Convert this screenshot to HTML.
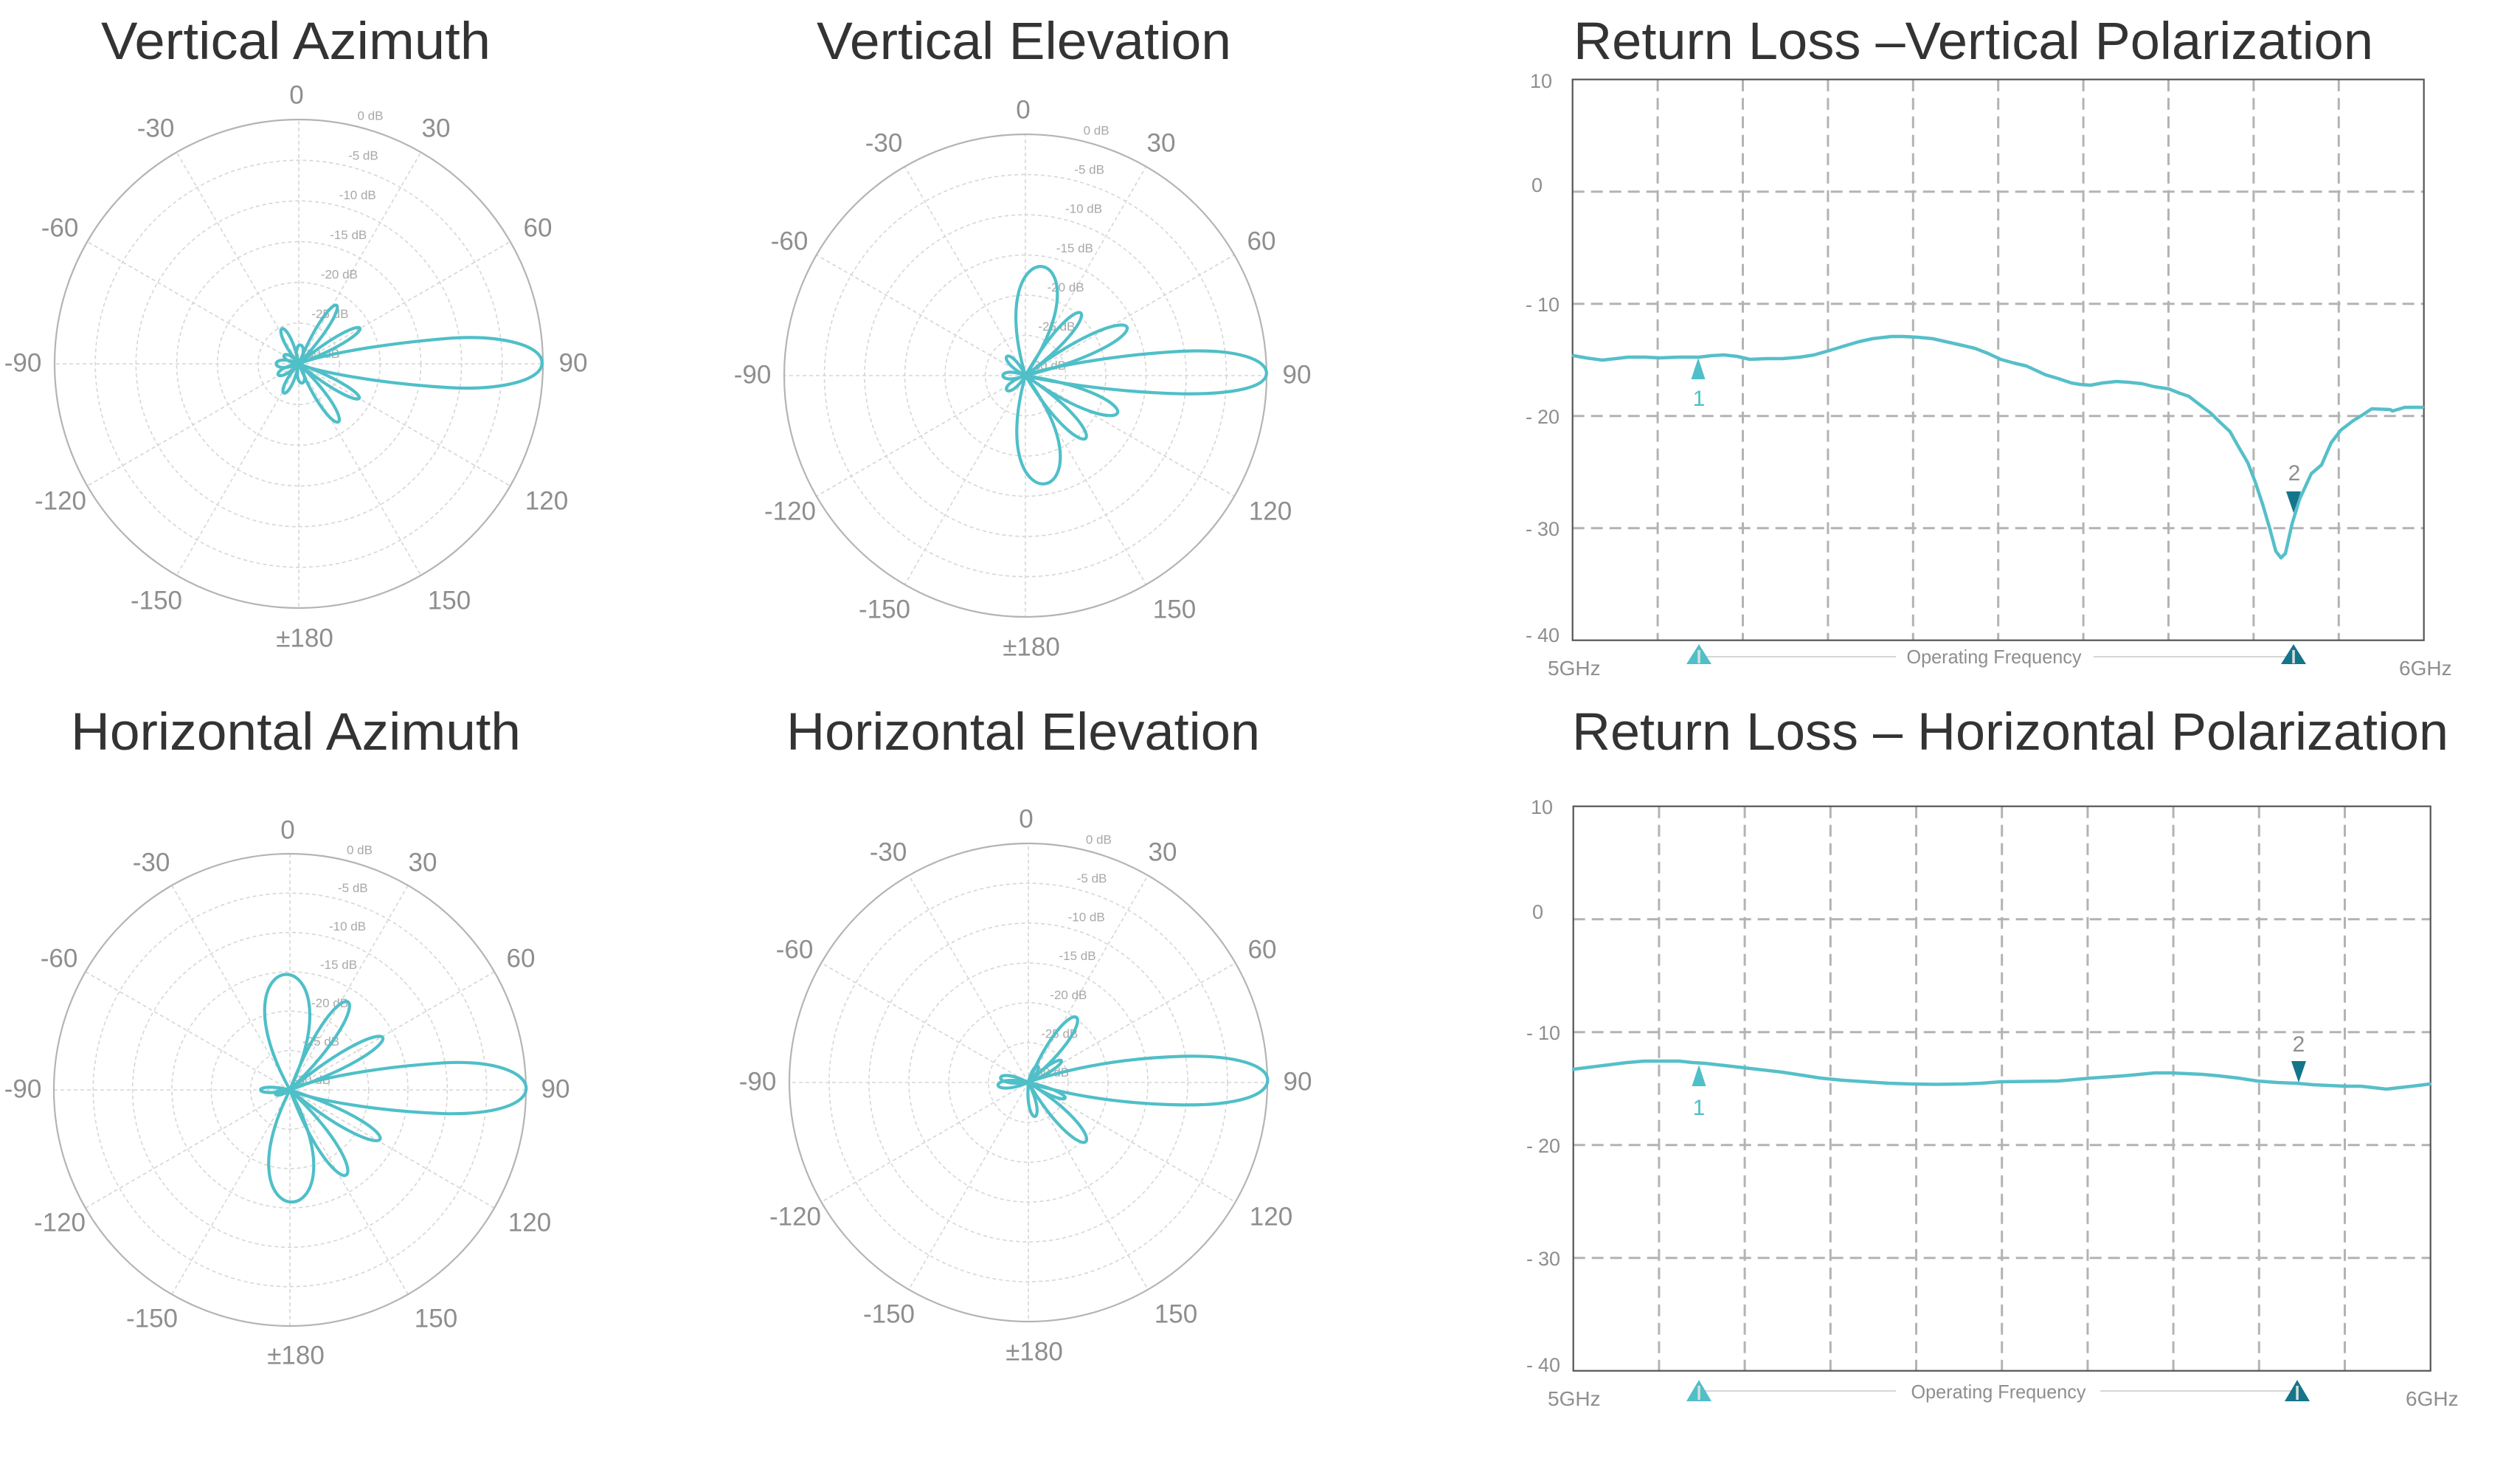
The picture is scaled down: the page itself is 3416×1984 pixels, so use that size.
<!DOCTYPE html>
<html><head><meta charset="utf-8"><style>
html,body{margin:0;padding:0;background:#fff}
svg{display:block}
.title{font-size:71px;fill:#333}
.ring{fill:none;stroke:#d6d6d6;stroke-width:1.6;stroke-dasharray:5 4}
.outer{fill:none;stroke:#b4b4b4;stroke-width:2.2}
.ang{font-size:35px;fill:#8e8e8e;text-anchor:middle}
.db{font-size:17px;fill:#a8a8a8}
.pat{fill:none;stroke:#4fbfc8;stroke-width:4.2;stroke-linejoin:round}
.grid{stroke:#b3b3b3;stroke-width:3;stroke-dasharray:16 9;fill:none}
.box{fill:none;stroke:#555;stroke-width:2.2}
.yl{font-size:27px;fill:#8e8e8e;text-anchor:end}
.curve{fill:none;stroke:#56bfc9;stroke-width:4.5;stroke-linejoin:round;stroke-linecap:round}
.ax{font-size:28px;fill:#8e8e8e}
.of{font-size:26px;fill:#8e8e8e;text-anchor:middle}
.ml{font-size:30px;text-anchor:middle}
.fl{stroke:#c8c8c8;stroke-width:1.5}
</style></head><body>
<svg width="3416" height="1984" xmlns="http://www.w3.org/2000/svg" font-family="'Liberation Sans', Arial, sans-serif">

<!-- Titles -->
<text class="title" x="401" y="80" text-anchor="middle" textLength="528" lengthAdjust="spacingAndGlyphs">Vertical Azimuth</text>
<text class="title" x="1388" y="80" text-anchor="middle" textLength="562" lengthAdjust="spacingAndGlyphs">Vertical Elevation</text>
<text class="title" x="2133" y="80" textLength="1084" lengthAdjust="spacingAndGlyphs">Return Loss –Vertical Polarization</text>
<text class="title" x="401" y="1016" text-anchor="middle" textLength="610" lengthAdjust="spacingAndGlyphs">Horizontal Azimuth</text>
<text class="title" x="1387" y="1016" text-anchor="middle" textLength="642" lengthAdjust="spacingAndGlyphs">Horizontal Elevation</text>
<text class="title" x="2131" y="1016" textLength="1188" lengthAdjust="spacingAndGlyphs">Return Loss – Horizontal Polarization</text>

<!-- ============ VERTICAL AZIMUTH ============ -->
<g transform="translate(405,493)">
<circle class="ring" r="55.2"/><circle class="ring" r="110.3"/><circle class="ring" r="165.5"/><circle class="ring" r="220.7"/><circle class="ring" r="275.8"/>
<line class="ring" y2="-331"/><line class="ring" y2="-331" transform="rotate(30)"/><line class="ring" y2="-331" transform="rotate(60)"/><line class="ring" y2="-331" transform="rotate(90)"/><line class="ring" y2="-331" transform="rotate(120)"/><line class="ring" y2="-331" transform="rotate(150)"/><line class="ring" y2="-331" transform="rotate(180)"/><line class="ring" y2="-331" transform="rotate(210)"/><line class="ring" y2="-331" transform="rotate(240)"/><line class="ring" y2="-331" transform="rotate(270)"/><line class="ring" y2="-331" transform="rotate(300)"/><line class="ring" y2="-331" transform="rotate(330)"/>
<circle class="outer" r="331"/>
<text class="db" x="79.5" y="-330.4">0 dB</text><text class="db" x="67.1" y="-276.6">-5 dB</text><text class="db" x="54.7" y="-223">-10 dB</text><text class="db" x="42.2" y="-169.2">-15 dB</text><text class="db" x="29.8" y="-115.4">-20 dB</text><text class="db" x="17.4" y="-61.8">-25 dB</text><text class="db" x="5" y="-8">-30 dB</text>
<text class="ang" x="-3" y="-352.5">0</text><text class="ang" x="186" y="-307.5">30</text><text class="ang" x="324" y="-172.5">60</text><text class="ang" x="372" y="10.5">90</text><text class="ang" x="336" y="197.5">120</text><text class="ang" x="204" y="332.5">150</text><text class="ang" x="8" y="383.5">±180</text><text class="ang" x="-193" y="332.5">-150</text><text class="ang" x="-323" y="197.5">-120</text><text class="ang" x="-374" y="10.5">-90</text><text class="ang" x="-324" y="-172.5">-60</text><text class="ang" x="-194" y="-307.5">-30</text>
</g>
<g transform="translate(0,100) scale(0.5102)"><path class="pat" vector-effect="non-scaling-stroke" d="M794,770 C850,748 1000,718 1200,702 C1330,694 1440,720 1440,768 C1440,815 1330,840 1200,834 C1000,822 850,792 794,772 Z"/></g>
<g>
<path class="pat" vector-effect="non-scaling-stroke" d="M0,0C3.46,-1.333 -3.46,-1.333 0,0" transform="translate(405 493) rotate(32.9) scale(6.6 94.4)"/>
<path class="pat" vector-effect="non-scaling-stroke" d="M0,0C3.46,-1.333 -3.46,-1.333 0,0" transform="translate(405 493) rotate(59.8) scale(6.1 95.9)"/>
<path class="pat" vector-effect="non-scaling-stroke" d="M0,0C3.46,-1.333 -3.46,-1.333 0,0" transform="translate(405 493) rotate(119.7) scale(6.1 94.4)"/>
<path class="pat" vector-effect="non-scaling-stroke" d="M0,0C3.46,-1.333 -3.46,-1.333 0,0" transform="translate(405 493) rotate(145.7) scale(7.7 95.4)"/>
<path class="pat" vector-effect="non-scaling-stroke" d="M0,0C3.46,-1.333 -3.46,-1.333 0,0" transform="translate(405 493) rotate(-25.7) scale(5.1 52.6)"/>
<path class="pat" vector-effect="non-scaling-stroke" d="M0,0C3.46,-1.333 -3.46,-1.333 0,0" transform="translate(405 493) rotate(207) scale(4.6 44.4)"/>
<path class="pat" vector-effect="non-scaling-stroke" d="M0,0C3.46,-1.333 -3.46,-1.333 0,0" transform="translate(405 493) rotate(270) scale(5.1 30.6)"/>
<path class="pat" vector-effect="non-scaling-stroke" d="M0,0C3.46,-1.333 -3.46,-1.333 0,0" transform="translate(405 493) rotate(242) scale(4.1 31.6)"/>
<path class="pat" vector-effect="non-scaling-stroke" d="M0,0C3.46,-1.333 -3.46,-1.333 0,0" transform="translate(405 493) rotate(5) scale(4.6 25.5)"/>
<path class="pat" vector-effect="non-scaling-stroke" d="M0,0C3.46,-1.333 -3.46,-1.333 0,0" transform="translate(405 493) rotate(170) scale(4.6 26.5)"/>
<path class="pat" vector-effect="non-scaling-stroke" d="M0,0C3.46,-1.333 -3.46,-1.333 0,0" transform="translate(405 493) rotate(300) scale(3.6 23)"/>
</g>

<!-- ============ VERTICAL ELEVATION ============ -->
<g transform="translate(1390,509)">
<circle class="ring" r="54.5"/><circle class="ring" r="109"/><circle class="ring" r="163.5"/><circle class="ring" r="218"/><circle class="ring" r="272.5"/>
<line class="ring" y2="-327"/><line class="ring" y2="-327" transform="rotate(30)"/><line class="ring" y2="-327" transform="rotate(60)"/><line class="ring" y2="-327" transform="rotate(90)"/><line class="ring" y2="-327" transform="rotate(120)"/><line class="ring" y2="-327" transform="rotate(150)"/><line class="ring" y2="-327" transform="rotate(180)"/><line class="ring" y2="-327" transform="rotate(210)"/><line class="ring" y2="-327" transform="rotate(240)"/><line class="ring" y2="-327" transform="rotate(270)"/><line class="ring" y2="-327" transform="rotate(300)"/><line class="ring" y2="-327" transform="rotate(330)"/>
<circle class="outer" r="327"/>
<text class="db" x="78.6" y="-326.5">0 dB</text><text class="db" x="66.3" y="-273.4">-5 dB</text><text class="db" x="54" y="-220.3">-10 dB</text><text class="db" x="41.8" y="-167.2">-15 dB</text><text class="db" x="29.5" y="-114.2">-20 dB</text><text class="db" x="17.3" y="-61.1">-25 dB</text><text class="db" x="5" y="-8">-30 dB</text>
<text class="ang" x="-3" y="-348.5">0</text><text class="ang" x="184" y="-303.5">30</text><text class="ang" x="320" y="-170.5">60</text><text class="ang" x="368" y="10.5">90</text><text class="ang" x="332" y="195.5">120</text><text class="ang" x="202" y="328.5">150</text><text class="ang" x="8" y="379.5">±180</text><text class="ang" x="-191" y="328.5">-150</text><text class="ang" x="-319" y="195.5">-120</text><text class="ang" x="-370" y="10.5">-90</text><text class="ang" x="-320" y="-170.5">-60</text><text class="ang" x="-192" y="-303.5">-30</text>
</g>
<g transform="translate(1000,100) scale(0.5102)"><path class="pat" vector-effect="non-scaling-stroke" d="M765,800 C820,782 980,748 1180,737 C1330,730 1405,760 1405,795 C1405,832 1320,852 1180,850 C980,845 820,815 765,803 Z"/></g>
<g>
<path class="pat" vector-effect="non-scaling-stroke" d="M0,0C3.46,-1.333 -3.46,-1.333 0,0" transform="translate(1390 509) rotate(8.9) scale(27 149.5)"/>
<path class="pat" vector-effect="non-scaling-stroke" d="M0,0C3.46,-1.333 -3.46,-1.333 0,0" transform="translate(1390 509) rotate(169.5) scale(28 149)"/>
<path class="pat" vector-effect="non-scaling-stroke" d="M0,0C3.46,-1.333 -3.46,-1.333 0,0" transform="translate(1390 509) rotate(41.5) scale(9.2 113.3)"/>
<path class="pat" vector-effect="non-scaling-stroke" d="M0,0C3.46,-1.333 -3.46,-1.333 0,0" transform="translate(1390 509) rotate(64.5) scale(12.2 152.6)"/>
<path class="pat" vector-effect="non-scaling-stroke" d="M0,0C3.46,-1.333 -3.46,-1.333 0,0" transform="translate(1390 509) rotate(112) scale(12.2 134.7)"/>
<path class="pat" vector-effect="non-scaling-stroke" d="M0,0C3.46,-1.333 -3.46,-1.333 0,0" transform="translate(1390 509) rotate(136.2) scale(10.2 117.9)"/>
<path class="pat" vector-effect="non-scaling-stroke" d="M0,0C3.46,-1.333 -3.46,-1.333 0,0" transform="translate(1390 509) rotate(270) scale(4.6 30.6)"/>
<path class="pat" vector-effect="non-scaling-stroke" d="M0,0C3.46,-1.333 -3.46,-1.333 0,0" transform="translate(1390 509) rotate(-44.4) scale(4.6 36.2)"/>
<path class="pat" vector-effect="non-scaling-stroke" d="M0,0C3.46,-1.333 -3.46,-1.333 0,0" transform="translate(1390 509) rotate(232) scale(4.6 32.1)"/>
</g>

<!-- ============ HORIZONTAL AZIMUTH ============ -->
<g transform="translate(393,1477)">
<circle class="ring" r="53.3"/><circle class="ring" r="106.7"/><circle class="ring" r="160"/><circle class="ring" r="213.3"/><circle class="ring" r="266.7"/>
<line class="ring" y2="-320"/><line class="ring" y2="-320" transform="rotate(30)"/><line class="ring" y2="-320" transform="rotate(60)"/><line class="ring" y2="-320" transform="rotate(90)"/><line class="ring" y2="-320" transform="rotate(120)"/><line class="ring" y2="-320" transform="rotate(150)"/><line class="ring" y2="-320" transform="rotate(180)"/><line class="ring" y2="-320" transform="rotate(210)"/><line class="ring" y2="-320" transform="rotate(240)"/><line class="ring" y2="-320" transform="rotate(270)"/><line class="ring" y2="-320" transform="rotate(300)"/><line class="ring" y2="-320" transform="rotate(330)"/>
<circle class="outer" r="320"/>
<text class="db" x="77" y="-319.7">0 dB</text><text class="db" x="65" y="-267.8">-5 dB</text><text class="db" x="53" y="-215.8">-10 dB</text><text class="db" x="41" y="-163.8">-15 dB</text><text class="db" x="29" y="-111.9">-20 dB</text><text class="db" x="17" y="-59.9">-25 dB</text><text class="db" x="5" y="-8">-30 dB</text>
<text class="ang" x="-3" y="-340.5">0</text><text class="ang" x="180" y="-296.5">30</text><text class="ang" x="313" y="-166.5">60</text><text class="ang" x="360" y="10.5">90</text><text class="ang" x="325" y="191.5">120</text><text class="ang" x="198" y="321.5">150</text><text class="ang" x="8" y="371.5">±180</text><text class="ang" x="-187" y="321.5">-150</text><text class="ang" x="-312" y="191.5">-120</text><text class="ang" x="-362" y="10.5">-90</text><text class="ang" x="-313" y="-166.5">-60</text><text class="ang" x="-188" y="-296.5">-30</text>
</g>
<g transform="translate(0,1100) scale(0.5102)"><path class="pat" vector-effect="non-scaling-stroke" d="M771,738 C830,712 980,680 1180,667 C1320,660 1398,695 1398,735 C1398,775 1320,805 1180,802 C980,795 830,762 771,742 Z"/></g>
<g>
<path class="pat" vector-effect="non-scaling-stroke" d="M0,0C3.46,-1.333 -3.46,-1.333 0,0" transform="translate(393 1477) rotate(-2) scale(30.6 156.6)"/>
<path class="pat" vector-effect="non-scaling-stroke" d="M0,0C3.46,-1.333 -3.46,-1.333 0,0" transform="translate(393 1477) rotate(33.4) scale(12.2 142.9)"/>
<path class="pat" vector-effect="non-scaling-stroke" d="M0,0C3.46,-1.333 -3.46,-1.333 0,0" transform="translate(393 1477) rotate(60.6) scale(10.2 144.4)"/>
<path class="pat" vector-effect="non-scaling-stroke" d="M0,0C3.46,-1.333 -3.46,-1.333 0,0" transform="translate(393 1477) rotate(118.7) scale(10.2 139.3)"/>
<path class="pat" vector-effect="non-scaling-stroke" d="M0,0C3.46,-1.333 -3.46,-1.333 0,0" transform="translate(393 1477) rotate(146.5) scale(12.2 138.3)"/>
<path class="pat" vector-effect="non-scaling-stroke" d="M0,0C3.46,-1.333 -3.46,-1.333 0,0" transform="translate(393 1477) rotate(179) scale(30.6 152)"/>
<path class="pat" vector-effect="non-scaling-stroke" d="M0,0C3.46,-1.333 -3.46,-1.333 0,0" transform="translate(393 1477) rotate(270) scale(3.6 39.8)"/>
<path class="pat" vector-effect="non-scaling-stroke" d="M0,0C3.46,-1.333 -3.46,-1.333 0,0" transform="translate(393 1477) rotate(255) scale(3.1 20.4)"/>
</g>

<!-- ============ HORIZONTAL ELEVATION ============ -->
<g transform="translate(1394,1467)">
<circle class="ring" r="54"/><circle class="ring" r="108"/><circle class="ring" r="162"/><circle class="ring" r="216"/><circle class="ring" r="270"/>
<line class="ring" y2="-324"/><line class="ring" y2="-324" transform="rotate(30)"/><line class="ring" y2="-324" transform="rotate(60)"/><line class="ring" y2="-324" transform="rotate(90)"/><line class="ring" y2="-324" transform="rotate(120)"/><line class="ring" y2="-324" transform="rotate(150)"/><line class="ring" y2="-324" transform="rotate(180)"/><line class="ring" y2="-324" transform="rotate(210)"/><line class="ring" y2="-324" transform="rotate(240)"/><line class="ring" y2="-324" transform="rotate(270)"/><line class="ring" y2="-324" transform="rotate(300)"/><line class="ring" y2="-324" transform="rotate(330)"/>
<circle class="outer" r="324"/>
<text class="db" x="77.9" y="-323.6">0 dB</text><text class="db" x="65.75" y="-271">-5 dB</text><text class="db" x="53.6" y="-218.4">-10 dB</text><text class="db" x="41.5" y="-165.8">-15 dB</text><text class="db" x="29.3" y="-113.2">-20 dB</text><text class="db" x="17.2" y="-60.6">-25 dB</text><text class="db" x="5" y="-8">-30 dB</text>
<text class="ang" x="-3" y="-345.5">0</text><text class="ang" x="182" y="-300.5">30</text><text class="ang" x="317" y="-168.5">60</text><text class="ang" x="365" y="10.5">90</text><text class="ang" x="329" y="193.5">120</text><text class="ang" x="200" y="325.5">150</text><text class="ang" x="8" y="376.5">±180</text><text class="ang" x="-189" y="325.5">-150</text><text class="ang" x="-316" y="193.5">-120</text><text class="ang" x="-367" y="10.5">-90</text><text class="ang" x="-317" y="-168.5">-60</text><text class="ang" x="-190" y="-300.5">-30</text>
</g>
<g transform="translate(1000,1080) scale(0.5102)"><path class="pat" vector-effect="non-scaling-stroke" d="M772,757 C840,735 980,695 1180,689 C1330,685 1408,715 1408,752 C1408,792 1330,820 1180,818 C980,815 840,780 772,760 Z"/></g>
<g>
<path class="pat" vector-effect="non-scaling-stroke" d="M0,0C3.46,-1.333 -3.46,-1.333 0,0" transform="translate(1394 1467) rotate(36.4) scale(10.2 109.7)"/>
<path class="pat" vector-effect="non-scaling-stroke" d="M0,0C3.46,-1.333 -3.46,-1.333 0,0" transform="translate(1394 1467) rotate(56.5) scale(4.1 53.6)"/>
<path class="pat" vector-effect="non-scaling-stroke" d="M0,0C3.46,-1.333 -3.46,-1.333 0,0" transform="translate(1394 1467) rotate(30) scale(3.1 25.5)"/>
<path class="pat" vector-effect="non-scaling-stroke" d="M0,0C3.46,-1.333 -3.46,-1.333 0,0" transform="translate(1394 1467) rotate(135.8) scale(10.2 111.7)"/>
<path class="pat" vector-effect="non-scaling-stroke" d="M0,0C3.46,-1.333 -3.46,-1.333 0,0" transform="translate(1394 1467) rotate(113) scale(4.1 54.1)"/>
<path class="pat" vector-effect="non-scaling-stroke" d="M0,0C3.46,-1.333 -3.46,-1.333 0,0" transform="translate(1394 1467) rotate(169) scale(5.1 46.9)"/>
<path class="pat" vector-effect="non-scaling-stroke" d="M0,0C3.46,-1.333 -3.46,-1.333 0,0" transform="translate(1394 1467) rotate(265) scale(5.1 41.3)"/>
<path class="pat" vector-effect="non-scaling-stroke" d="M0,0C3.46,-1.333 -3.46,-1.333 0,0" transform="translate(1394 1467) rotate(280) scale(4.6 38.3)"/>
</g>

<!-- ============ RETURN LOSS VERTICAL ============ -->
<g>
<path class="grid" d="M2247.1,107.7V867.7M2362.5,107.7V867.7M2477.9,107.7V867.7M2593.3,107.7V867.7M2708.7,107.7V867.7M2824.1,107.7V867.7M2939.5,107.7V867.7M3054.9,107.7V867.7M3170.3,107.7V867.7"/>
<path class="grid" d="M2131.7,259.7H3285.7M2131.7,411.7H3285.7M2131.7,563.7H3285.7M2131.7,715.7H3285.7"/>
<rect class="box" x="2131.7" y="107.7" width="1154" height="760"/>
<text class="yl" x="2104" y="119">10</text>
<text class="yl" x="2091" y="260">0</text>
<text class="yl" x="2114" y="422">-<tspan dx="7">10</tspan></text>
<text class="yl" x="2114" y="574">-<tspan dx="7">20</tspan></text>
<text class="yl" x="2114" y="726">-<tspan dx="7">30</tspan></text>
<text class="yl" x="2114" y="870">-<tspan dx="7">40</tspan></text>
<polyline class="curve" points="2133,482 2150,485 2172,488 2190,486 2207,484 2230,484 2250,485 2275,484 2303,484 2320,482 2337,481 2355,483 2372,487 2395,486 2416,486 2440,484 2459,481 2480,475 2503,468 2520,463 2538,459 2564,456 2580,456 2599,457 2620,459 2642,464 2660,468 2677,472 2695,479 2712,487 2730,492 2747,496 2760,502 2773,508 2790,513 2808,519 2820,521 2834,522 2850,519 2869,517 2885,518 2904,520 2920,524 2940,527 2955,533 2967,537 2980,547 2997,560 3007,570 3023,585 3033,603 3047,627 3057,653 3067,683 3077,717 3085,747 3092,756 3098,750 3107,710 3117,677 3133,642 3147,630 3160,600 3173,583 3190,570 3203,562 3215,554 3240,555 3243,557 3260,552 3284,552"/>
<polygon points="2302,485 2292.5,514 2311.5,514" fill="#4fbfc8"/>
<text class="ml" x="2303" y="550" fill="#4fbfc8">1</text>
<polygon points="3099,666 3119,666 3109,695" fill="#15758a"/>
<text class="ml" x="3110" y="651" fill="#8e8e8e">2</text>
<line class="fl" x1="2305" y1="890" x2="2570" y2="890"/>
<line class="fl" x1="2838" y1="890" x2="3107" y2="890"/>
<polygon points="2303,873 2286,900 2320,900" fill="#4fbfc8"/>
<rect x="2301.3" y="881" width="3.5" height="18" fill="#dcdcdc"/>
<polygon points="3109,873 3092,900 3126,900" fill="#15758a"/>
<rect x="3107.3" y="881" width="3.5" height="18" fill="#dcdcdc"/>
<text class="of" x="2703" y="899" textLength="237" lengthAdjust="spacingAndGlyphs">Operating Frequency</text>
<text class="ax" x="2098" y="915">5GHz</text>
<text class="ax" x="3252" y="915">6GHz</text>
</g>

<!-- ============ RETURN LOSS HORIZONTAL ============ -->
<g>
<path class="grid" d="M2248.9,1092.7V1857.7M2365.1,1092.7V1857.7M2481.3,1092.7V1857.7M2597.5,1092.7V1857.7M2713.7,1092.7V1857.7M2829.9,1092.7V1857.7M2946.1,1092.7V1857.7M3062.3,1092.7V1857.7M3178.5,1092.7V1857.7"/>
<path class="grid" d="M2132.7,1245.7H3294.7M2132.7,1398.7H3294.7M2132.7,1551.7H3294.7M2132.7,1704.7H3294.7"/>
<rect class="box" x="2132.7" y="1092.7" width="1162" height="765"/>
<text class="yl" x="2105" y="1103">10</text>
<text class="yl" x="2092" y="1245">0</text>
<text class="yl" x="2115" y="1409">-<tspan dx="7">10</tspan></text>
<text class="yl" x="2115" y="1562">-<tspan dx="7">20</tspan></text>
<text class="yl" x="2115" y="1715">-<tspan dx="7">30</tspan></text>
<text class="yl" x="2115" y="1859">-<tspan dx="7">40</tspan></text>
<polyline class="curve" points="2133,1449 2157,1446 2181,1443 2205,1440 2229,1438 2252,1438 2276,1438 2295,1440 2311,1441 2338,1444 2364,1447 2390,1450 2416,1453 2442,1457 2468,1461 2498,1464 2529,1466 2560,1468 2590,1469 2625,1469.5 2660,1469 2686,1468 2712,1466 2750,1465.5 2790,1465 2812,1463 2834,1461 2856,1459.5 2878,1458 2900,1456 2921,1454 2943,1454 2965,1455 2986,1456 3008,1458 3034,1461 3060,1465 3087,1467 3113,1468 3135,1470 3156,1471 3178,1472 3200,1472 3218,1474 3235,1476 3252,1474 3270,1472 3294,1469"/>
<polygon points="2303,1443 2293.5,1472 2312.5,1472" fill="#4fbfc8"/>
<text class="ml" x="2303" y="1511" fill="#4fbfc8">1</text>
<polygon points="3106,1438 3126,1438 3116,1467" fill="#15758a"/>
<text class="ml" x="3116" y="1425" fill="#8e8e8e">2</text>
<line class="fl" x1="2305" y1="1885" x2="2570" y2="1885"/>
<line class="fl" x1="2847" y1="1885" x2="3112" y2="1885"/>
<polygon points="2303,1870 2286,1899 2320,1899" fill="#4fbfc8"/>
<rect x="2301.3" y="1878" width="3.5" height="19" fill="#dcdcdc"/>
<polygon points="3114,1870 3097,1899 3131,1899" fill="#15758a"/>
<rect x="3112.3" y="1878" width="3.5" height="19" fill="#dcdcdc"/>
<text class="of" x="2709" y="1895" textLength="237" lengthAdjust="spacingAndGlyphs">Operating Frequency</text>
<text class="ax" x="2098" y="1905">5GHz</text>
<text class="ax" x="3261" y="1905">6GHz</text>
</g>

</svg>
</body></html>
